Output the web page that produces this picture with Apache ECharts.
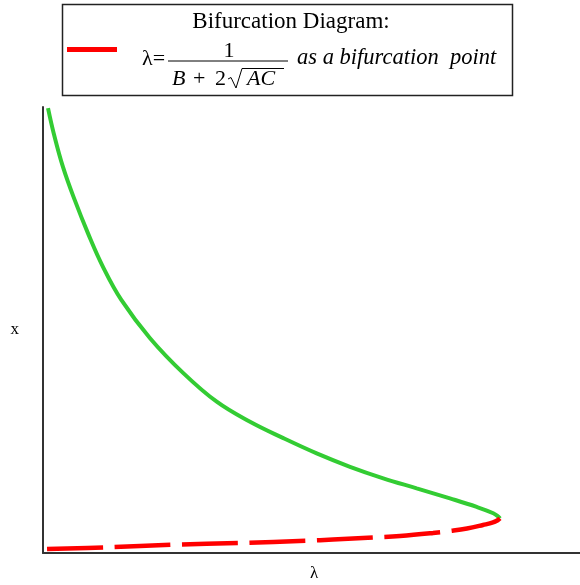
<!DOCTYPE html>
<html>
<head>
<meta charset="utf-8">
<script src="https://cdn.jsdelivr.net/npm/echarts@6/dist/echarts.min.js"></script>
<style>
html,body{margin:0;padding:0;background:#fff;}
#chart{width:580px;height:585px;}
</style>
</head>
<body>
<div id="chart"></div>
<script>
// Upper (stable) branch: lambda values and x values
const upperLambda = [0.0056, 0.0120, 0.0223, 0.0354, 0.0503, 0.0670, 0.0875, 0.1196, 0.1568, 0.1941, 0.2313, 0.2685, 0.3058, 0.3430, 0.3802, 0.4175, 0.4547, 0.4846, 0.5031, 0.5087, 0.5106];
const upperX      = [11.97, 11.29, 10.39, 9.50, 8.60, 7.70, 6.81, 5.78, 4.84, 4.07, 3.53, 3.09, 2.68, 2.32, 2.01, 1.74, 1.47, 1.24, 1.07, 0.98, 0.93];
// Lower (unstable) branch, from lambda ~ 0 up to the bifurcation point
const lowerLambda = [0.0045, 0.0715, 0.1453, 0.2201, 0.2950, 0.3240, 0.3687, 0.3989, 0.4358, 0.4547, 0.4737, 0.4916, 0.5028, 0.5084, 0.5106];
const lowerX      = [0.108, 0.153, 0.223, 0.269, 0.331, 0.363, 0.417, 0.457, 0.538, 0.592, 0.659, 0.753, 0.821, 0.888, 0.93];

const titleText = 'Bifurcation Diagram:';
const xAxisName = 'λ';
const yAxisName = 'x';

const upperData = upperLambda.map((l, i) => [l, upperX[i]]);
const lowerData = lowerLambda.map((l, i) => [l, lowerX[i]]);

const chart = echarts.init(document.getElementById('chart'), null, {renderer: 'canvas'});
const serif = '"Liberation Serif", "Times New Roman", serif';
const axisStyle = {show: true, lineStyle: {color: '#333', width: 2}};

chart.setOption({
  animation: false,
  backgroundColor: '#fff',
  grid: {left: 43, right: 0, top: 107, bottom: 32, containLabel: false, outerBoundsMode: 'none'},
  xAxis: {
    type: 'value', min: 0, max: 0.6,
    name: xAxisName, nameLocation: 'middle', nameGap: 12,
    nameTextStyle: {fontFamily: serif, fontSize: 17, color: '#000', padding: [0, 0, 0, 5]},
    axisLine: axisStyle, axisTick: {show: false}, axisLabel: {show: false}, splitLine: {show: false}
  },
  yAxis: {
    type: 'value', min: 0, max: 12,
    name: yAxisName, nameLocation: 'middle', nameGap: 24, nameRotate: 0,
    nameTextStyle: {fontFamily: serif, fontSize: 17, color: '#000'},
    axisLine: axisStyle, axisTick: {show: false}, axisLabel: {show: false}, splitLine: {show: false}
  },
  series: [
    {
      type: 'line', data: upperData, smooth: 0.4, symbol: 'none', clip: false,
      lineStyle: {color: '#33cc33', width: 4}
    },
    {
      type: 'line', data: lowerData, smooth: 0.4, symbol: 'none', clip: false,
      lineStyle: {color: '#ff0000', width: 4.5, type: [56, 11.5], cap: 'butt'}
    }
  ],
  graphic: [
    {type: 'rect', shape: {x: 62.5, y: 4.5, width: 450, height: 91},
     style: {fill: '#fff', stroke: '#222', lineWidth: 1.5}},
    {type: 'line', shape: {x1: 67, y1: 49.5, x2: 117, y2: 49.5},
     style: {stroke: '#ff0000', lineWidth: 5}},
    {type: 'text', style: {text: titleText, x: 291, y: 21.5, align: 'center', verticalAlign: 'middle',
      font: '23px ' + serif, fill: '#000'}},
    {type: 'text', style: {text: 'λ=', x: 142, y: 59, align: 'left', verticalAlign: 'middle',
      font: '22px ' + serif, fill: '#000'}},
    {type: 'text', style: {text: '1', x: 229, y: 51.5, align: 'center', verticalAlign: 'middle',
      font: '22px ' + serif, fill: '#000'}},
    {type: 'line', shape: {x1: 168, y1: 61, x2: 288, y2: 61}, style: {stroke: '#000', lineWidth: 1}},
    {type: 'text', style: {text: 'B', x: 172, y: 79.5, align: 'left', verticalAlign: 'middle',
      font: 'italic 22px ' + serif, fill: '#000'}},
    {type: 'text', style: {text: '+', x: 193, y: 79.5, align: 'left', verticalAlign: 'middle',
      font: '22px ' + serif, fill: '#000'}},
    {type: 'text', style: {text: '2', x: 215, y: 79.5, align: 'left', verticalAlign: 'middle',
      font: '22px ' + serif, fill: '#000'}},
    {type: 'polyline', shape: {points: [[228, 79], [231, 77.5], [236, 88], [242, 68.5], [284, 68.5]]},
      style: {stroke: '#000', lineWidth: 1, fill: null}},
    {type: 'text', style: {text: 'AC', x: 247, y: 79.5, align: 'left', verticalAlign: 'middle',
      font: 'italic 22px ' + serif, fill: '#000'}},
    {type: 'text', style: {text: 'as a bifurcation  point', x: 297, y: 58, align: 'left', verticalAlign: 'middle',
      font: 'italic 22.5px ' + serif, fill: '#000'}}
  ]
});
</script>
</body>
</html>
